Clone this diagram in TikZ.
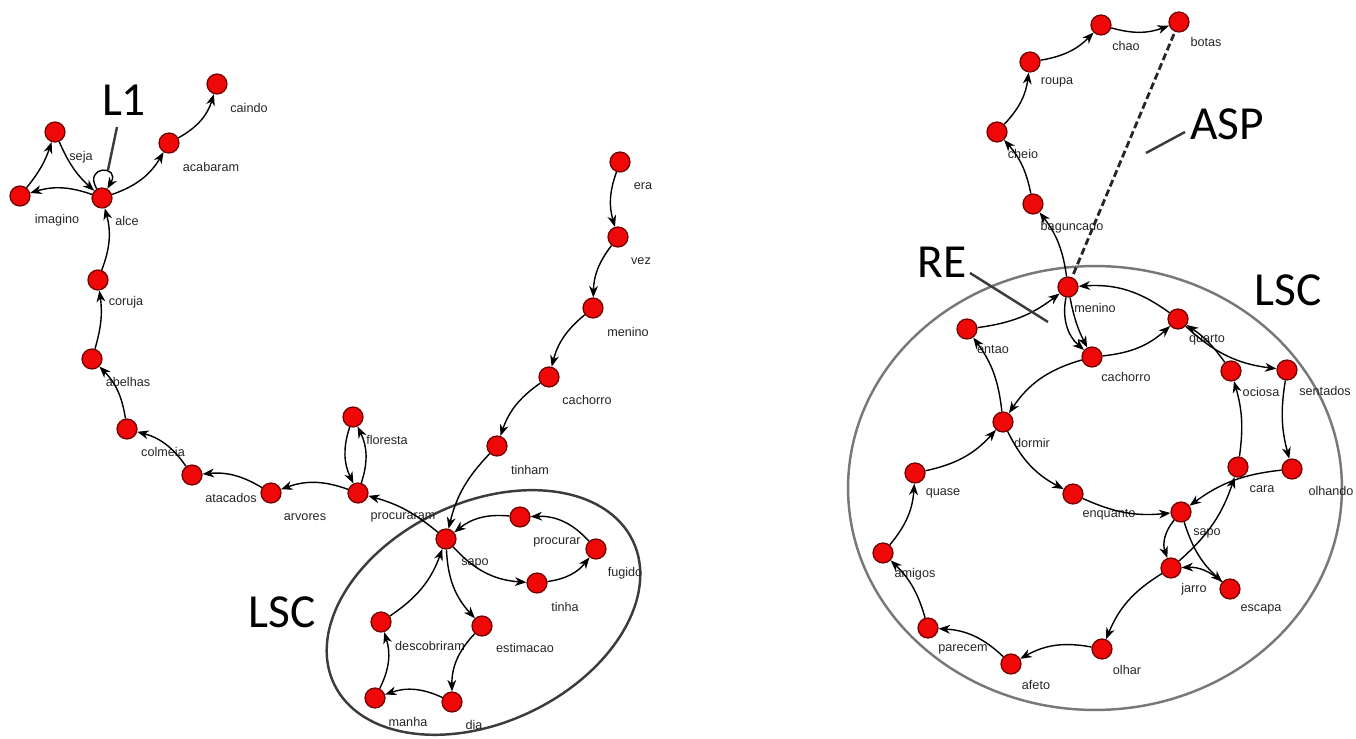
\documentclass[tikz,border=0pt]{standalone}
\usepackage{fontspec}
\usetikzlibrary{arrows.meta}
\newfontfamily\lblfont{Liberation Sans}
\newfontfamily\bigfont{Carlito}
\definecolor{nodered}{RGB}{238,8,8}
\definecolor{nodeedge}{RGB}{110,0,0}
\definecolor{ringgray}{RGB}{120,120,120}
\definecolor{ringdark}{RGB}{60,60,60}
\tikzset{
  vtx/.style={circle, fill=nodered, draw=nodeedge, line width=0.7pt, minimum size=0.4cm, inner sep=0pt},
  lbl/.style={font=\lblfont\fontsize{7.2}{8}\selectfont, text=black!85, inner sep=0pt},
  bigl/.style={font=\bigfont\fontsize{27}{29}\selectfont, inner sep=0pt},
  arr/.style={draw=black, line width=0.8pt, -{Stealth[length=6.5pt,width=5pt,inset=2pt]}},
  ptr/.style={draw=ringdark, line width=1.4pt},
  aspline/.style={draw=black!85, line width=1.6pt, dash pattern=on 4pt off 2pt}
}
\newcommand\wnode[6]{\node[vtx] (#1) at (#2,#3) {}; \node[lbl] (#1-t) at (#5,#6) {#4};}
\begin{document}
\begin{tikzpicture}[x=0.02cm,y=-0.02cm]
\useasboundingbox (0,0) rectangle (1356,739);
% enclosing shapes
\coordinate (lscL) at (483.5,612.5);
\draw[ringdark, line width=1.4pt, rotate around={25.6:(lscL)}] (lscL) ellipse [x radius=3.314cm, y radius=2.2cm];
\coordinate (lscR) at (1095,488);
\draw[ringgray, line width=1.4pt] (lscR) ellipse [x radius=4.94cm, y radius=4.44cm];
% ---- left graph ----
\wnode{Lcaindo}{217}{84}{caindo}{249}{108}
\wnode{Lacabaram}{169}{143}{acabaram}{211}{167}
\wnode{Lseja}{55}{132}{seja}{81}{157}
\wnode{Limagino}{20}{196}{imagino}{57}{220}
\wnode{Lalce}{102}{198}{alce}{127}{221}
\wnode{Lcoruja}{98}{280}{coruja}{126}{302}
\wnode{Labelhas}{92}{359}{abelhas}{128}{382}
\wnode{Lcolmeia}{127}{429}{colmeia}{163}{452}
\wnode{Latacados}{192}{475}{atacados}{231}{498}
\wnode{Larvores}{271}{493}{arvores}{305}{517}
\wnode{Lfloresta}{353}{417}{floresta}{387}{440}
\wnode{Lprocuraram}{358}{493}{procuraram}{403}{517}
\wnode{Lera}{620}{162}{era}{643}{186}
\wnode{Lvez}{618}{237}{vez}{641}{261}
\wnode{Lmenino}{593}{308}{menino}{628}{332}
\wnode{Lcachorro}{549}{377}{cachorro}{587}{400}
\wnode{Ltinham}{497}{446}{tinham}{530}{470}
\wnode{Lsapo}{446}{539}{sapo}{475}{563}
\wnode{Lprocurar}{520}{517}{procurar}{557}{542}
\wnode{Lfugido}{596}{549}{fugido}{625}{573}
\wnode{Ltinha}{537}{583}{tinha}{565}{607}
\wnode{Lestimacao}{482}{626}{estimacao}{525}{648}
\wnode{Ldescobriram}{381}{622}{descobriram}{430}{646}
\wnode{Lmanha}{375}{698}{manha}{408}{722}
\wnode{Ldia}{452}{702}{dia}{474}{725}
\draw[arr] (Lacabaram) to[bend right=22] (Lcaindo);
\draw[arr] (Lalce) to[bend right=20] (Lacabaram);
\draw[arr] (Lseja) to[bend right=12] (Lalce);
\draw[arr] (Lalce) to[bend right=18] (Limagino);
\draw[arr] (Limagino) to[bend right=10] (Lseja);
\draw[arr] (Lalce) to[out=120,in=60,min distance=0.55cm] (Lalce);
\draw[arr] (Lcoruja) to[bend right=18] (Lalce);
\draw[arr] (Labelhas) to[bend right=12] (Lcoruja);
\draw[arr] (Lcolmeia) to[bend right=18] (Labelhas);
\draw[arr] (Latacados) to[bend right=20] (Lcolmeia);
\draw[arr] (Larvores) to[bend right=18] (Latacados);
\draw[arr] (Lprocuraram) to[bend right=20] (Larvores);
\draw[arr] (Lfloresta) to[bend right=22] (Lprocuraram);
\draw[arr] (Lprocuraram) to[bend right=22] (Lfloresta);
\draw[arr] (Lsapo) to[bend right=12] (Lprocuraram);
\draw[arr] (Lera) to[bend right=18] (Lvez);
\draw[arr] (Lvez) to[bend right=18] (Lmenino);
\draw[arr] (Lmenino) to[bend right=18] (Lcachorro);
\draw[arr] (Lcachorro) to[bend right=18] (Ltinham);
\draw[arr] (Ltinham) to[bend right=15] (Lsapo);
\draw[arr] (Lsapo) to[bend right=22] (Ltinha);
\draw[arr] (Ltinha) to[bend right=22] (Lfugido);
\draw[arr] (Lfugido) to[bend right=25] (Lprocurar);
\draw[arr] (Lprocurar) to[bend right=22] (Lsapo);
\draw[arr] (Lsapo) to[bend right=20] (Lestimacao);
\draw[arr] (Lestimacao) to[bend right=22] (Ldia);
\draw[arr] (Ldia) to[bend right=22] (Lmanha);
\draw[arr] (Lmanha) to[bend right=22] (Ldescobriram);
\draw[arr] (Ldescobriram) to[bend right=18] (Lsapo);
% ---- right graph ----
\wnode{Rchao}{1101}{25}{chao}{1126}{46}
\wnode{Rbotas}{1179}{22}{botas}{1206}{42}
\wnode{Rroupa}{1030}{62}{roupa}{1057}{82}
\wnode{Rcheio}{997}{132}{cheio}{1023}{154}
\wnode{Rbaguncado}{1033}{204}{baguncado}{1072}{227}
\wnode{Rmenino}{1068}{287}{menino}{1095}{308}
\wnode{Rentao}{967}{329}{entao}{993}{349}
\wnode{Rcachorro}{1092}{357}{cachorro}{1126}{377}
\wnode{Rquarto}{1178}{319}{quarto}{1207}{340}
\wnode{Rociosa}{1231}{371}{ociosa}{1261}{392}
\wnode{Rsentados}{1287}{370}{sentados}{1325}{391}
\wnode{Rdormir}{1003}{422}{dormir}{1032}{443}
\wnode{Rquase}{915}{473}{quase}{943}{493}
\wnode{Rcara}{1238}{467}{cara}{1262}{489}
\wnode{Rolhando}{1292}{469}{olhando}{1331}{491}
\wnode{Renquanto}{1073}{494}{enquanto}{1109}{515}
\wnode{Rsapo}{1181}{512}{sapo}{1207}{533}
\wnode{Rjarro}{1171}{568}{jarro}{1194}{589}
\wnode{Rescapa}{1230}{589}{escapa}{1261}{609}
\wnode{Ramigos}{883}{553}{amigos}{915}{574}
\wnode{Rparecem}{928}{628}{parecem}{963}{649}
\wnode{Rafeto}{1011}{664}{afeto}{1036}{685}
\wnode{Rolhar}{1102}{649}{olhar}{1127}{670}
\draw[aspline, shorten <=2pt] (Rmenino) -- (Rbotas);
\draw[arr] (Rmenino) to[bend right=15] (Rbaguncado);
\draw[arr] (Rbaguncado) to[bend right=15] (Rcheio);
\draw[arr] (Rcheio) to[bend right=18] (Rroupa);
\draw[arr] (Rroupa) to[bend right=18] (Rchao);
\draw[arr] (Rchao) to[bend right=18] (Rbotas);
\draw[arr] (Rentao) to[bend right=15] (Rmenino);
\draw[arr] (Rmenino) to[bend right=30] (Rcachorro);
\draw[arr] (Rmenino) to[bend right=8] (Rcachorro);
\draw[arr] (Rcachorro) to[bend right=18] (Rquarto);
\draw[arr] (Rquarto) to[bend right=20] (Rmenino);
\draw[arr] (Rcachorro) to[bend right=20] (Rdormir);
\draw[arr] (Rdormir) to[bend right=15] (Rentao);
\draw[arr] (Rquase) to[bend right=18] (Rdormir);
\draw[arr] (Rdormir) to[bend right=18] (Renquanto);
\draw[arr] (Renquanto) to[bend right=15] (Rsapo);
\draw[arr] (Rquarto) to[bend right=18] (Rsentados);
\draw[arr] (Rociosa) to[bend right=10] (Rquarto);
\draw[arr] (Rcara) to[bend right=12] (Rociosa);
\draw[arr] (Rsentados) to[bend right=12] (Rolhando);
\draw[arr] (Rolhando) to[bend right=15] (Rsapo);
\draw[arr] (Rjarro) to[bend right=15] (Rcara);
\draw[arr] (Rsapo) to[bend right=30] (Rjarro);
\draw[arr] (Rsapo) to[bend right=15] (Rescapa);
\draw[arr] (Rescapa) to[bend right=22] (Rjarro);
\draw[arr] (Rjarro) to[bend right=18] (Rolhar);
\draw[arr] (Rolhar) to[bend right=20] (Rafeto);
\draw[arr] (Rafeto) to[bend right=20] (Rparecem);
\draw[arr] (Rparecem) to[bend right=15] (Ramigos);
\draw[arr] (Ramigos) to[bend right=18] (Rquase);
% ---- annotations ----
\node[bigl] (tL1) at (124,100) {L1};
\coordinate (pL1a) at (117,127);
\coordinate (pL1b) at (108,170);
\draw[ptr] (pL1a) -- (pL1b);
\node[bigl] (tLSCl) at (282,612) {LSC};
\node[bigl] (tLSCr) at (1288,290) {LSC};
\node[bigl] (tASP) at (1227,124) {ASP};
\coordinate (pASPa) at (1146,153);
\coordinate (pASPb) at (1185,132);
\draw[ptr] (pASPa) -- (pASPb);
\node[bigl] (tRE) at (942,262) {RE};
\coordinate (pREa) at (970,273);
\coordinate (pREb) at (1048,322);
\draw[ptr] (pREa) -- (pREb);
\end{tikzpicture}
\end{document}
